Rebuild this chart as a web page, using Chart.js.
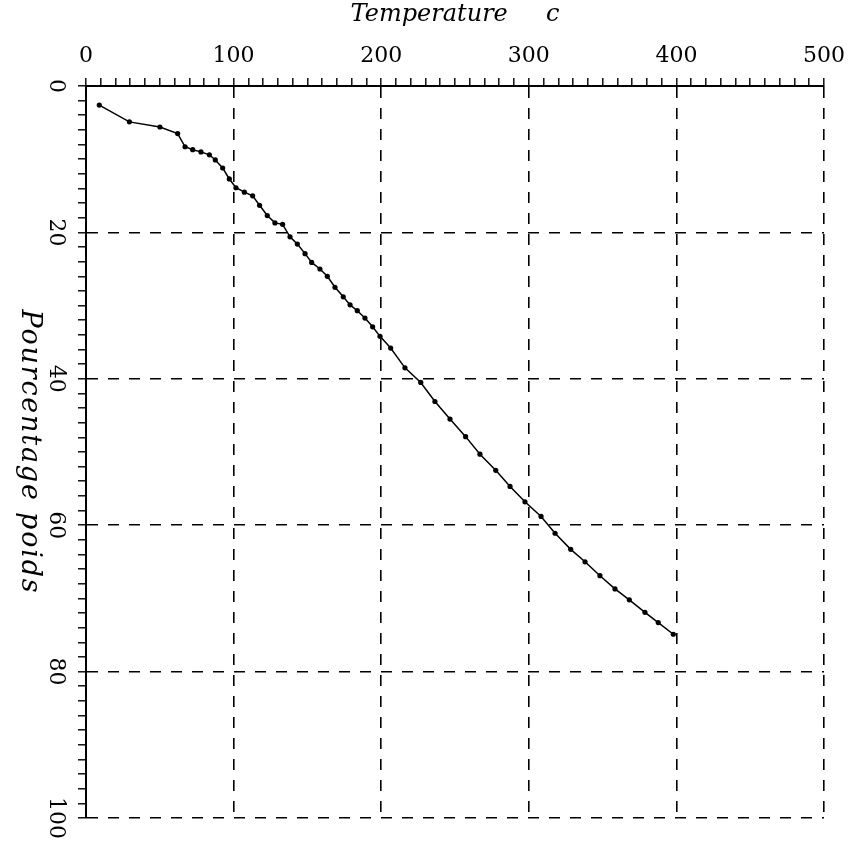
<!DOCTYPE html>
<html>
<head>
<meta charset="utf-8">
<title>Pourcentage poids vs Temperature</title>
<script src="https://cdn.jsdelivr.net/npm/chart.js@4.4.1/dist/chart.umd.min.js"></script>
<style>
  html, body { margin: 0; padding: 0; background: #fff; }
  #wrap { position: relative; width: 854px; height: 848px; }
</style>
</head>
<body>
<div id="wrap"><canvas id="chart"></canvas></div>
<script>
// Values (temperature in C, weight loss in %)
const temperature = [
  9, 29.4, 50.1, 62.1, 67.1, 72.3, 77.9, 83.6, 87.6, 92.6,
  97.1, 101.6, 107.3, 112.9, 117.6, 122.8, 128, 133.2, 138.2, 143.2,
  148.4, 152.9, 158.5, 163.5, 168.7, 174.3, 178.9, 183.8, 189, 194.2,
  199.2, 206.4, 216.1, 226.8, 236.4, 246.6, 257.2, 266.9, 277.6, 287.3,
  297.4, 308.3, 317.8, 328.4, 338.1, 348.2, 358.4, 368.1, 378.7, 387.7,
  397.9
];
const weightLoss = [
  2.6, 4.9, 5.6, 6.5, 8.3, 8.7, 9.0, 9.4, 10.1, 11.2,
  12.7, 13.9, 14.5, 15.0, 16.3, 17.7, 18.7, 18.9, 20.6, 21.6,
  22.9, 24.1, 25.0, 26.0, 27.5, 28.8, 29.9, 30.7, 31.7, 32.9,
  34.2, 35.8, 38.5, 40.5, 43.1, 45.5, 47.9, 50.3, 52.5, 54.7,
  56.8, 58.8, 61.1, 63.3, 65.0, 66.9, 68.7, 70.2, 71.9, 73.3,
  74.9
];

const xTicksLabelled = [0, 100, 200, 300, 400, 500];
const yTicksLabelled = [0, 20, 40, 60, 80, 100];
const X_TITLE = 'Temperature     c';
const Y_TITLE = 'Pourcentage poids';

const INK = '#000';
const SERIF = '"DejaVu Serif", "Liberation Serif", serif';

Chart.defaults.font.family = SERIF;
Chart.defaults.color = INK;

/* ---------- helpers ---------- */

// dashed grid only on the labelled values, never on the solid axes
function gridColor(labelled) {
  return (ctx) => {
    const v = ctx.tick && ctx.tick.value;
    return v !== 0 && labelled.includes(v) ? INK : 'rgba(0,0,0,0)';
  };
}

function tickLabel(labelled) {
  return (v) => (labelled.includes(v) ? String(v) : '');
}

// y title reads top to bottom, Chart.js only rotates the other way
const yTitlePlugin = {
  id: 'yTitle',
  afterDraw(chart) {
    const { ctx, chartArea } = chart;
    ctx.save();
    ctx.translate(29, (chartArea.top + chartArea.bottom) / 2);
    ctx.rotate(Math.PI / 2);
    ctx.font = 'italic 27px ' + SERIF;
    ctx.letterSpacing = '1.8px';
    ctx.fillStyle = INK;
    ctx.textAlign = 'center';
    ctx.textBaseline = 'middle';
    ctx.fillText(Y_TITLE, 0, 0);
    ctx.restore();
  },
};

/* ---------- chart ---------- */

new Chart(document.getElementById('chart'), {
  type: 'line',
  data: {
    datasets: [{
      data: temperature.map((t, i) => ({ x: t, y: weightLoss[i] })),
      borderColor: INK,
      backgroundColor: INK,
      borderWidth: 1.5,
      tension: 0,
      pointRadius: 2.6,
      pointHoverRadius: 2.6,
      pointBackgroundColor: INK,
      pointBorderWidth: 0,
    }],
  },
  plugins: [yTitlePlugin],
  options: {
    responsive: true,
    maintainAspectRatio: false,
    animation: false,
    layout: { padding: { left: 0, top: 0, right: 30, bottom: 30 } },
    plugins: { legend: { display: false }, tooltip: { enabled: false } },
    scales: {
      x: {
        type: 'linear',
        position: 'top',
        min: 0,
        max: 500,
        afterFit: (s) => { s.height = 86; },
        title: {
          display: true,
          text: X_TITLE,
          font: { size: 24, style: 'italic', family: SERIF },
          padding: { top: 0, bottom: 0 },
        },
        ticks: {
          stepSize: 10,
          autoSkip: false,
          maxRotation: 0,
          padding: 9,
          font: { size: 22 },
          callback: tickLabel(xTicksLabelled),
        },
        grid: {
          color: gridColor(xTicksLabelled),
          lineWidth: 1.6,
          tickColor: INK,
          tickWidth: 1.4,
          tickLength: 8,
        },
        border: { display: true, color: INK, width: 2, dash: [11, 10] },
      },
      y: {
        type: 'linear',
        position: 'left',
        reverse: true,
        min: 0,
        max: 100,
        afterFit: (s) => { s.width = 86; },
        ticks: {
          stepSize: 2,
          autoSkip: false,
          minRotation: -90,
          maxRotation: -90,
          crossAlign: 'center',
          padding: 1,
          font: { size: 22 },
          callback: tickLabel(yTicksLabelled),
        },
        grid: {
          color: gridColor(yTicksLabelled),
          lineWidth: 1.6,
          tickColor: INK,
          tickWidth: 1.4,
          tickLength: 8,
        },
        border: { display: true, color: INK, width: 2, dash: [11, 10] },
      },
    },
  },
});
</script>
</body>
</html>
